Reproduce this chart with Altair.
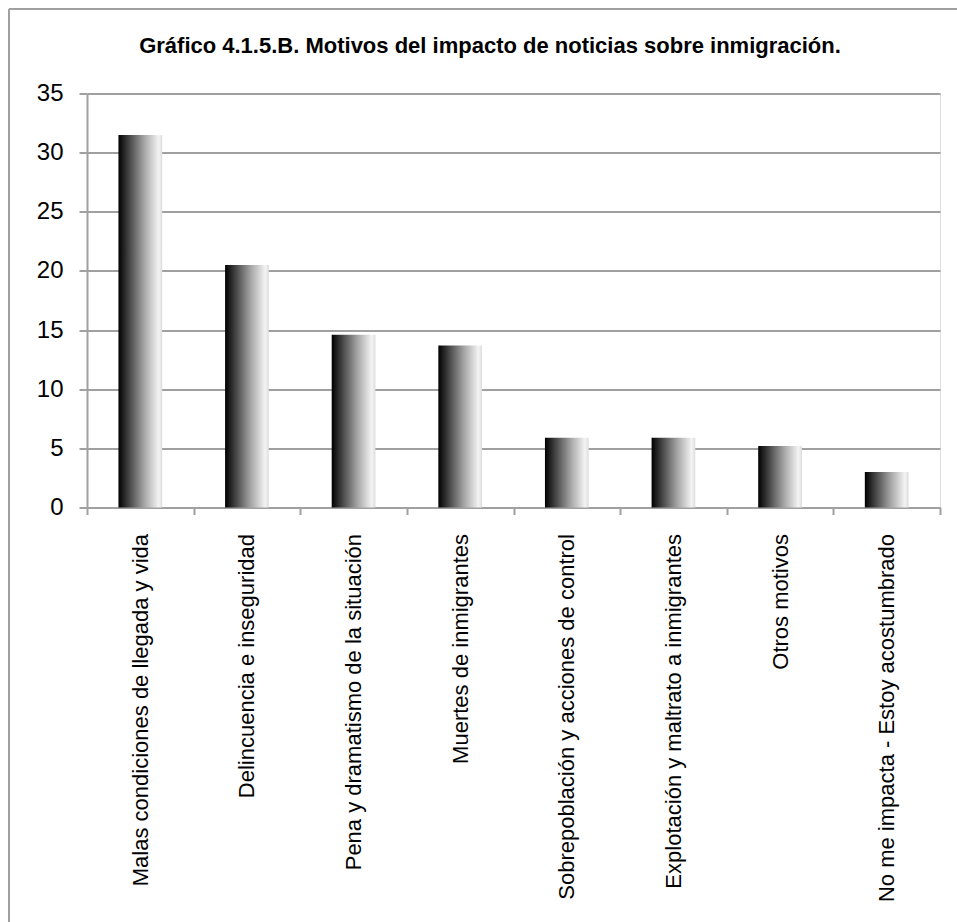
import altair as alt
import pandas as pd

# Motivos declarados y porcentaje de respuestas
motivos = [
    "Malas condiciones de llegada y vida",
    "Delincuencia e inseguridad",
    "Pena y dramatismo de la situación",
    "Muertes de inmigrantes",
    "Sobrepoblación y acciones de control",
    "Explotación y maltrato a inmigrantes",
    "Otros motivos",
    "No me impacta - Estoy acostumbrado",
]
porcentajes = [31.5, 20.5, 14.6, 13.7, 5.9, 5.9, 5.2, 3.0]
y_ticks = [0, 5, 10, 15, 20, 25, 30, 35]

titulo = "Gráfico 4.1.5.B. Motivos del impacto de noticias sobre inmigración."

FONT = "Liberation Sans, Arial, sans-serif"
GRID = "#a0a0a0"

df = pd.DataFrame({"motivo": motivos, "valor": porcentajes})

# Horizontal black-to-white shading of each column
degradado = alt.Gradient(
    gradient="linear",
    x1=0, x2=1, y1=0, y2=0,
    stops=[
        alt.GradientStop(color="#000000", offset=0),
        alt.GradientStop(color="#555555", offset=0.3),
        alt.GradientStop(color="#a8a8a8", offset=0.6),
        alt.GradientStop(color="#f4f4f4", offset=0.92),
        alt.GradientStop(color="#dcdcdc", offset=1),
    ],
)

barras = alt.Chart(df).mark_bar(
    color=degradado, width=alt.RelativeBandSize(0.41)
).encode(
    x=alt.X(
        "motivo:N",
        sort=motivos,
        title=None,
        scale=alt.Scale(paddingInner=0, paddingOuter=0),
        axis=alt.Axis(
            labelAngle=270,
            labelAlign="right",
            labelBaseline="middle",
            labelPadding=19,
            labelLimit=500,
            labelFontSize=22,
            labelFont=FONT,
            labelColor="#000000",
            tickBand="extent",
            tickSize=7,
            tickWidth=2,
            tickColor=GRID,
            domainColor=GRID,
            domainWidth=2,
            grid=False,
        ),
    ),
    y=alt.Y(
        "valor:Q",
        title=None,
        scale=alt.Scale(domain=[0, 35], nice=False),
        axis=alt.Axis(
            values=y_ticks,
            labelFontSize=24,
            labelFont=FONT,
            labelColor="#000000",
            labelPadding=16,
            tickSize=8,
            tickWidth=2,
            tickColor=GRID,
            domainColor=GRID,
            domainWidth=2,
            gridColor=GRID,
            gridWidth=2,
        ),
    ),
)

# Outer frame of the figure (top and left edges)
marco_sup = alt.Chart(df).mark_rule(color=GRID, strokeWidth=2).encode(
    x=alt.value(-78), x2=alt.value(900), y=alt.value(-84.5)
)
marco_izq = alt.Chart(df).mark_rule(color=GRID, strokeWidth=2).encode(
    x=alt.value(-78), y=alt.value(-84.5), y2=alt.value(900)
)

# Figure caption above the plot
encabezado = alt.Chart(pd.DataFrame({"t": [titulo]})).mark_text(
    font=FONT,
    fontSize=22,
    fontWeight="bold",
    color="#000000",
    align="center",
    baseline="alphabetic",
).encode(
    text="t:N",
    x=alt.value(403),
    y=alt.value(-40.5),
)

chart = (
    alt.layer(marco_sup, marco_izq, barras, encabezado)
    .properties(
        width=853,
        height=414,
        autosize=alt.AutoSizeParams(type="none"),
        padding={"left": 87, "top": 93.5, "right": 17, "bottom": 414.5},
    )
    .configure_view(stroke=None)
    .configure(background="#ffffff")
)

chart.save("out.html", embed_options={"renderer": "svg", "actions": False})
